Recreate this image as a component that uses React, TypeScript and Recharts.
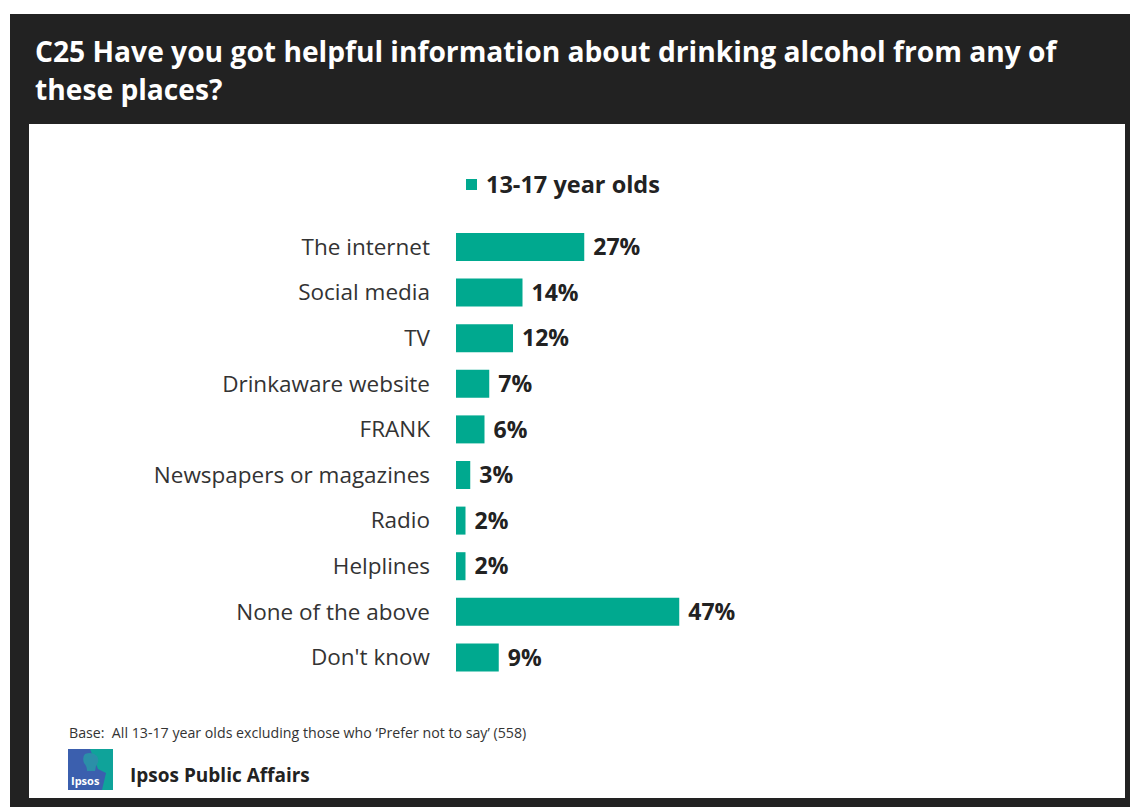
import React from "react";
import { BarChart, Bar, XAxis, YAxis, LabelList } from "recharts";

const categories = [
  "The internet",
  "Social media",
  "TV",
  "Drinkaware website",
  "FRANK",
  "Newspapers or magazines",
  "Radio",
  "Helplines",
  "None of the above",
  "Don't know",
];
const teenValues = [27, 14, 12, 7, 6, 3, 2, 2, 47, 9];
const seriesName = "13-17 year olds";

const data = categories.map((name, i) => ({ name, teens: teenValues[i] }));

const FONT = "'Open Sans', 'Noto Sans', sans-serif";
const TEAL = "#00A98F";

function IpsosLogo() {
  return (
    <svg width={45} height={41} viewBox="0 0 45 41">
      <rect x={0} y={0} width={45} height={41} fill="#3b5fae" />
      <polygon points="22,0 45,0 45,41 34,41 38,24 30,20" fill="#0fa39a" />
      <path d="M17 5 q7 -3 12 2 q3 5 -1 10 l-1 5 l-8 0 q0 -5 -3 -8 q-2 -6 1 -9z" fill="#2b8fa8" />
      <text x={3} y={36} fontSize={11} fontWeight={700} fill="#fff" fontFamily={FONT}>
        Ipsos
      </text>
    </svg>
  );
}

export default function App() {
  return (
    <div style={{ position: "absolute", left: 0, top: 0, width: 1130, height: 807, background: "#fff", fontFamily: FONT, overflow: "hidden" }}>
      <div style={{ position: "absolute", left: 10, top: 14, width: 1120, height: 793, background: "#222222" }} />
      <div style={{ position: "absolute", left: 35, top: 32, color: "#fff", fontWeight: 700, fontSize: 28.2, lineHeight: "38px", whiteSpace: "nowrap" }}>
        C25 Have you got helpful information about drinking alcohol from any of
        <br />
        these places?
      </div>
      <div style={{ position: "absolute", left: 29, top: 124, width: 1096, height: 674, background: "#fff" }} />

      <div style={{ position: "absolute", left: 0, top: 0 }}>
        <BarChart
          width={1130}
          height={807}
          data={data}
          layout="vertical"
          margin={{ top: 224, right: 199, left: 0, bottom: 127 }}
        >
          <XAxis type="number" domain={[0, 100]} hide />
          <YAxis
            type="category"
            dataKey="name"
            width={456}
            axisLine={false}
            tickLine={false}
            tickSize={0}
            tickMargin={26}
            tick={{ fill: "#333", fontSize: 22.5, fontFamily: FONT }}
          />
          <Bar dataKey="teens" name={seriesName} fill={TEAL} barSize={28} isAnimationActive={false}>
            <LabelList
              dataKey="teens"
              position="right"
              offset={9}
              formatter={(v: number) => `${v}%`}
              style={{ fill: "#222", fontSize: 23, fontWeight: 700, fontFamily: FONT }}
            />
          </Bar>
        </BarChart>
      </div>

      <div style={{ position: "absolute", left: 466, top: 168, display: "flex", alignItems: "center", whiteSpace: "nowrap" }}>
        <span style={{ display: "inline-block", width: 11, height: 11, background: TEAL, marginRight: 9 }} />
        <span style={{ fontSize: 23.5, fontWeight: 700, color: "#222" }}>{seriesName}</span>
      </div>

      <div style={{ position: "absolute", left: 69, top: 723, fontSize: 14.2, color: "#333", whiteSpace: "nowrap" }}>
        Base:&nbsp; All 13-17 year olds excluding those who ‘Prefer not to say’ (558)
      </div>
      <div style={{ position: "absolute", left: 68, top: 749 }}>
        <IpsosLogo />
      </div>
      <div style={{ position: "absolute", left: 130, top: 762, fontSize: 19, fontWeight: 700, color: "#222", whiteSpace: "nowrap" }}>
        Ipsos Public Affairs
      </div>
    </div>
  );
}
